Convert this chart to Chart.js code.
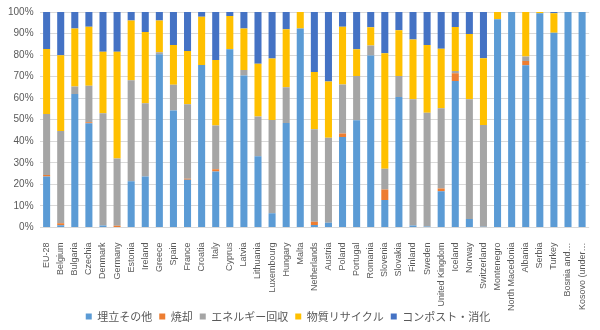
<!DOCTYPE html>
<html>
<head>
<meta charset="utf-8">
<script src="https://cdn.jsdelivr.net/npm/chart.js@4"></script>
<style>
  html, body { margin: 0; padding: 0; background: #fff; }
  #wrap { width: 600px; height: 330px; }
</style>
</head>
<body>
<div id="wrap"><canvas id="wasteChart"></canvas></div>
<script>
const countries = [
  "EU-28", "Belgium", "Bulgaria", "Czechia", "Denmark", "Germany", "Estonia",
  "Ireland", "Greece", "Spain", "France", "Croatia", "Italy", "Cyprus", "Latvia",
  "Lithuania", "Luxembourg", "Hungary", "Malta", "Netherlands", "Austria",
  "Poland", "Portugal", "Romania", "Slovenia", "Slovakia", "Finland", "Sweden",
  "United Kingdom", "Iceland", "Norway", "Switzerland", "Montenegro",
  "North Macedonia", "Albania", "Serbia", "Turkey", "Bosnia and…", "Kosovo (under…"
];

const landfill = [
  23.6, 1, 62, 48.4, 0.9, 0.2, 21.5, 23.6, 80.4, 54.3, 22.1, 75.4, 26, 82.7, 70.5,
  33.1, 6.6, 48.5, 92.3, 1.1, 2.2, 42, 49.8, 79.8, 12.8, 60.6, 0.9, 0.5,
  16.8, 68, 3.9, 0.3, 96.6, 100, 75.3, 99.4, 90.4, 100, 100
];
const incineration = [
  0.8, 1, 0, 0.4, 0, 0.6, 0, 0, 0, 0, 0.5, 0, 1, 0, 0,
  0, 0, 0, 0, 1.5, 0, 1.6, 0, 0, 4.8, 0, 0, 0,
  1.3, 3.6, 0, 0, 0, 0, 2, 0, 0, 0, 0
];
const energyRecovery = [
  28.3, 42.8, 3.4, 17, 52.1, 31.2, 46.8, 34, 0.9, 11.9, 34.6, 0, 20.3, 0, 2.6,
  18.4, 43.3, 16.6, 0, 43, 39.4, 22.7, 20.5, 4.7, 9.6, 9.7, 58.6, 52.7,
  37.2, 1, 55.6, 47.3, 0, 0, 2, 0, 0, 0, 0
];
const recycling = [
  30.1, 35.1, 26.9, 27.4, 28.5, 49.6, 27.7, 33.1, 14.7, 18.5, 24.7, 22.4, 30.4, 15.4, 19.2,
  24.5, 28.5, 26.9, 7.7, 26.6, 26.1, 26.9, 12.4, 8.4, 53.6, 21.2, 27.7, 31.5,
  27.7, 20.4, 30.3, 30.9, 3.4, 0, 20.7, 0.6, 9, 0, 0
];
const composting = [
  17.2, 20.1, 7.7, 6.8, 18.5, 18.4, 4, 9.3, 4, 15.3, 18.1, 2.2, 22.3, 1.9, 7.7,
  24, 21.6, 8, 0, 27.8, 32.3, 6.8, 17.3, 7.1, 19.2, 8.5, 12.8, 15.3,
  17, 7, 10.2, 21.5, 0, 0, 0, 0, 0.6, 0, 0
];

const seriesNames = ["埋立その他", "焼却", "エネルギー回収", "物質リサイクル", "コンポスト・消化"];
const seriesColors = ["#5B9BD5", "#ED7D31", "#A5A5A5", "#FFC000", "#4472C4"];
const seriesData = [landfill, incineration, energyRecovery, recycling, composting];

const textColor = "#595959";
const baseFont = "'Liberation Sans', 'Noto Sans CJK JP', sans-serif";

// the legend sits close under the long rotated labels, so give it less
// room in the layout and lift it a bit when drawing
const legendTweak = {
  id: "legendTweak",
  beforeLayout(chart) {
    const lg = chart.legend;
    if (lg && !lg._patched) {
      const fit = lg.fit;
      lg.fit = function () {
        fit.call(this);
        this.height = 12;
      };
      lg._patched = true;
    }
  },
  afterLayout(chart) {
    const lg = chart.legend;
    lg.top -= 14;
    lg.left -= 9;
    lg.right -= 9;
  },
};

const ctx = document.getElementById("wasteChart").getContext("2d");
new Chart(ctx, {
  type: "bar",
  data: {
    labels: countries,
    datasets: seriesNames.map(function (name, i) {
      return {
        label: name,
        data: seriesData[i],
        backgroundColor: seriesColors[i],
        borderWidth: 0,
        categoryPercentage: 0.5,
        barPercentage: 1.0,
      };
    }),
  },
  options: {
    responsive: true,
    maintainAspectRatio: false,
    animation: false,
    layout: { padding: { left: 2, right: 8, top: 6, bottom: 0 } },
    scales: {
      x: {
        stacked: true,
        grid: { display: false },
        border: { display: false },
        ticks: {
          color: textColor,
          font: { family: baseFont, size: 9 },
          maxRotation: 90,
          minRotation: 90,
          autoSkip: false,
          padding: 7,
        },
      },
      y: {
        stacked: true,
        min: 0,
        max: 100,
        border: { display: false },
        grid: { color: "#D9D9D9", drawTicks: false },
        ticks: {
          stepSize: 10,
          color: textColor,
          font: { family: baseFont, size: 10 },
          padding: 6,
          callback: function (v) { return v + "%"; },
        },
      },
    },
    plugins: {
      legend: {
        position: "bottom",
        labels: {
          color: textColor,
          font: { family: "'Noto Sans CJK JP', sans-serif", size: 11 },
          boxWidth: 6,
          boxHeight: 6,
          padding: 7,
        },
      },
      tooltip: { enabled: false },
    },
  },
  plugins: [legendTweak],
});
</script>
</body>
</html>
